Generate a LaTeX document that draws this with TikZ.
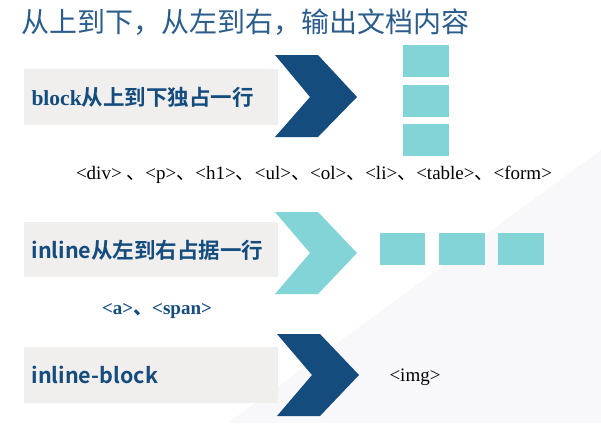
\documentclass[tikz,border=0pt]{standalone}
\usepackage{fontspec}
\newfontfamily\cjk{Noto Sans CJK SC}
\newfontfamily\cjkb{Noto Sans CJK SC Bold}
\setmainfont{Liberation Serif}
\newcommand{\dn}{{\cjk 、}}
\definecolor{navy}{HTML}{134C7D}
\definecolor{teal}{HTML}{82D4D6}
\definecolor{barg}{HTML}{F1EEEE}
\definecolor{bgg}{HTML}{F8F7F9}
\definecolor{ttl}{HTML}{2A5C8C}
\begin{document}
\begin{tikzpicture}[x=1pt,y=-1pt,
  bar/.style={fill=barg,draw=none},
  sq/.style={fill=teal,draw=none},
  lab/.style={anchor=west,text=navy,font=\cjkb\fontsize{21.5}{21.5}\selectfont},
  tag/.style={font=\fontsize{19}{19}\selectfont}]
\useasboundingbox (0,0) rectangle (601,423);
\fill[bgg] (601,150) -- (601,423) -- (228,423) -- cycle;
\node[anchor=west,text=ttl,font=\cjk\fontsize{28}{28}\selectfont] (title) at (18,22) {从上到下，从左到右，输出文档内容};
% row 1
\fill[bar] (24,69) rectangle (278,125);
\fill[navy] (275,55) -- (318,55) -- (357,97) -- (318,137) -- (275,137) -- (310,97) -- cycle;
\node[lab] (l1) at (28,97) {{\rmfamily\bfseries block}从上到下独占一行};
\fill[sq] (403,45) rectangle (449,77);
\fill[sq] (403,85) rectangle (449,117);
\fill[sq] (403,124) rectangle (449,156);
\node[tag] (t1) at (314,175) {<div> \dn<p>\dn<h1>\dn<ul>\dn <ol>\dn <li>\dn <table>\dn<form>};
% row 2
\fill[bar] (24,222) rectangle (278,277);
\fill[teal] (275,212) -- (318,212) -- (357,253) -- (318,294) -- (275,294) -- (310,253) -- cycle;
\node[lab] (l2) at (28,250) {inline从左到右占据一行};
\fill[sq] (380,233) rectangle (425,265);
\fill[sq] (439,233) rectangle (485,265);
\fill[sq] (498,233) rectangle (544,265);
\node[tag,text=navy,font=\bfseries\fontsize{19}{19}\selectfont] (t2) at (157,311) {<a>\dn<span>};
% row 3
\fill[bar] (24,347) rectangle (278,403);
\fill[navy] (277,334) -- (320,334) -- (359,375) -- (320,416) -- (277,416) -- (312,375) -- cycle;
\node[lab] (l3) at (28,375) {inline-block};
\node[tag] (t3) at (415,377) {<img>};
\end{tikzpicture}
\end{document}
